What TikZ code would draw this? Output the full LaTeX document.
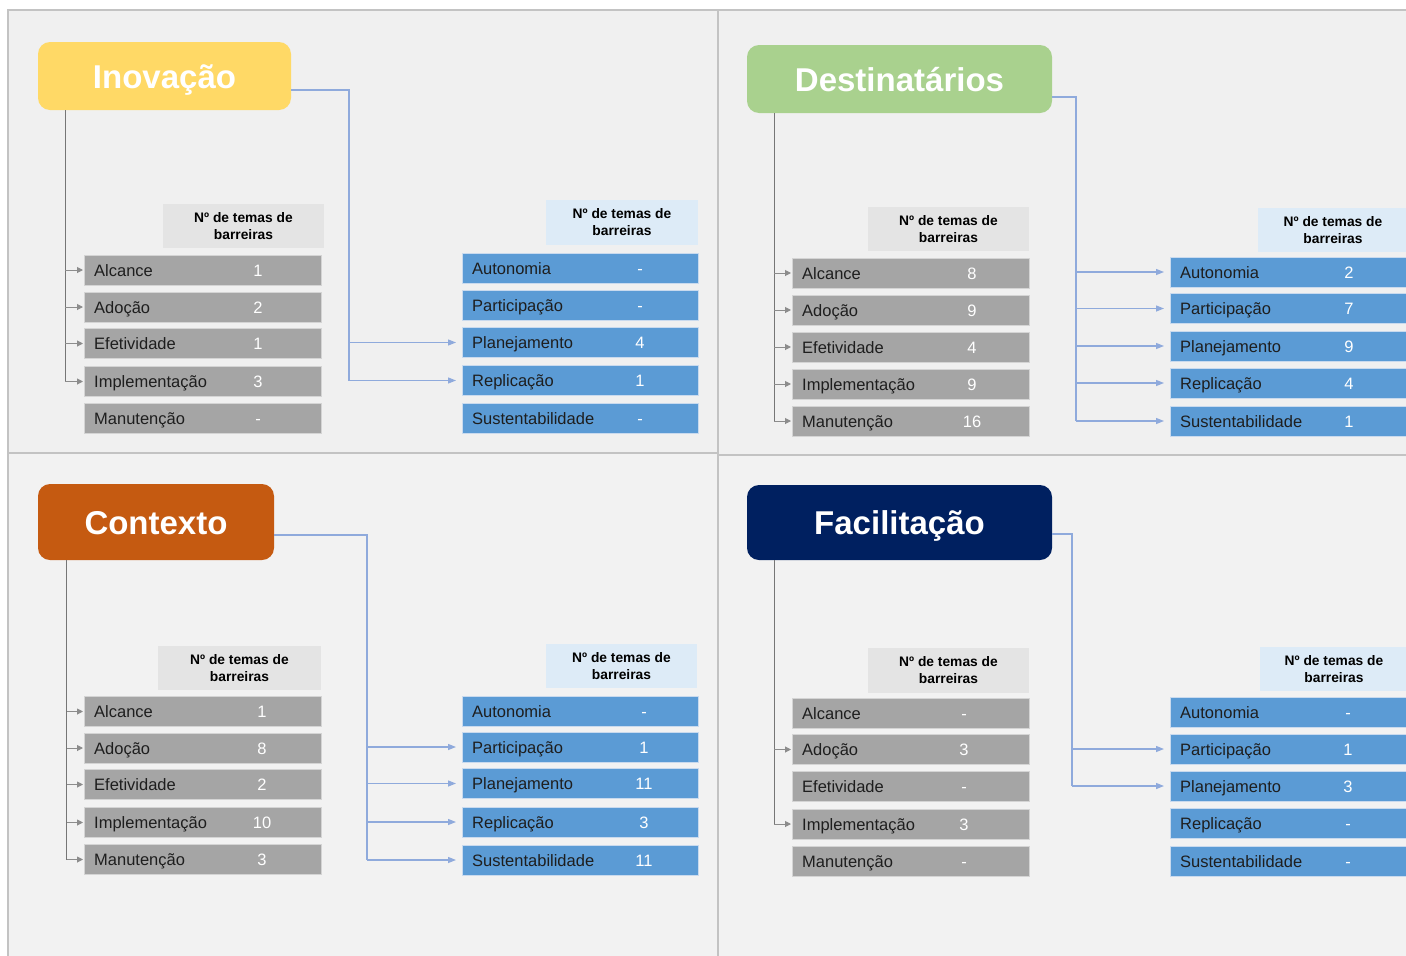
\documentclass[tikz,border=0pt]{standalone}
\usepackage{fontspec}
\setmainfont{Liberation Sans}
\usetikzlibrary{arrows.meta,calc}

\definecolor{panelA}{HTML}{F0F0F0}
\definecolor{panelB}{HTML}{F2F2F2}
\definecolor{panelline}{HTML}{C3C3C3}
\definecolor{boxgray}{HTML}{A5A5A5}
\definecolor{boxgrayedge}{HTML}{D4D4D4}
\definecolor{boxblue}{HTML}{5B9BD5}
\definecolor{boxblueedge}{HTML}{C9DAEE}
\definecolor{hdrgray}{HTML}{E4E4E4}
\definecolor{hdrblue}{HTML}{DDEBF7}
\definecolor{labeltext}{HTML}{1E1E1E}
\definecolor{gspine}{HTML}{767676}
\definecolor{garrowc}{HTML}{8C8C8C}
\definecolor{bluel}{HTML}{8FAADC}
\definecolor{inov}{HTML}{FFD966}
\definecolor{dest}{HTML}{A9D18E}
\definecolor{cont}{HTML}{C55A11}
\definecolor{faci}{HTML}{002060}

\tikzset{
  panelbox/.style={draw=panelline, line width=1.2pt},
  titlebox/.style={rounded corners=12pt, inner sep=0pt, text=white,
    text height=24pt, text depth=0pt,
    font=\bfseries\fontsize{33}{40}\selectfont},
  hdr/.style={inner sep=0pt, align=center, text=black,
    font=\bfseries\fontsize{13.8}{17}\selectfont},
  gbox/.style={fill=boxgray, draw=boxgrayedge, line width=1pt, anchor=west,
    minimum height=30pt, minimum width=237pt, inner sep=0pt},
  bbox/.style={fill=boxblue, draw=boxblueedge, line width=1pt, anchor=west,
    minimum height=30pt, minimum width=236pt, inner sep=0pt},
  lbl/.style={anchor=west, inner sep=0pt, text=labeltext, text height=12pt, text depth=0pt,
    font=\fontsize{16.5}{19}\selectfont},
  num/.style={inner sep=0pt, text=white, text height=12pt, text depth=0pt,
    font=\fontsize{16.5}{19}\selectfont},
  gline/.style={draw=gspine, line width=1pt},
  garrow/.style={draw=garrowc, line width=1pt, -{Triangle[length=6pt,width=6pt]}, shorten >=1pt},
  bline/.style={draw=bluel, line width=1.3pt},
  barrow/.style={draw=bluel, line width=1.3pt, -{Triangle[length=8pt,width=6pt]}, shorten >=6pt},
}

% one column of rows: name prefix, box style, left x, number x, list k/label/value/y
\newcommand{\colrows}[5]{%
  \foreach \k/\t/\v/\yc in {#5}{%
    \node[#2] (#1\k) at (#3,\yc) {};
    \node[lbl] (#1l\k) at ($(#1\k.west)+(10,0)$) {\t};
    \node[num] (#1n\k) at (#4,\yc) {\v};
  }}

\begin{document}
\begin{tikzpicture}[x=1pt,y=-1pt]
\useasboundingbox (0,0) rectangle (1406,956);
\clip (0,0) rectangle (1406,956);
\fill[white] (0,0) rectangle (1406,956);

% four panels
\filldraw[panelbox, fill=panelA] (8,10) rectangle (718,453);
\filldraw[panelbox, fill=panelA] (718,10) rectangle (1430,455);
\filldraw[panelbox, fill=panelB] (8,453) rectangle (718,990);
\filldraw[panelbox, fill=panelB] (718,455) rectangle (1430,990);

% ---------- Inovação ----------
\node[titlebox, fill=inov, minimum width=253pt, minimum height=68pt] (tlT) at (164.5,76) {Inovação};
\node[hdr, fill=hdrgray, minimum width=161pt, minimum height=44pt] (tlgh) at (243.5,226) {Nº de temas de\\barreiras};
\node[hdr, fill=hdrblue, minimum width=152pt, minimum height=45pt] (tlbh) at (622,222.5) {Nº de temas de\\barreiras};
\colrows{tlg}{gbox}{84}{258}{1/Alcance/1/270, 2/Adoção/2/307, 3/Efetividade/1/343.5, 4/Implementação/3/381.5, 5/Manutenção/-/418}
\colrows{tlb}{bbox}{462}{640}{1/Autonomia/-/268.5, 2/Participação/-/305.5, 3/Planejamento/4/342.5, 4/Replicação/1/380.5, 5/Sustentabilidade/-/418}

\coordinate (tlgs) at (65,0);
\draw[gline] (tlgs |- tlT.south) -- (tlgs |- tlg4);
\foreach \k in {1,2,3,4} \draw[garrow] (tlgs |- tlg\k) -- (tlg\k.west);
\coordinate (tlbs) at (349,0);
\coordinate (tlo) at ($(tlT.east)+(0,14)$);
\draw[bline] (tlo) -- (tlbs |- tlo) -- (tlbs |- tlb4);
\foreach \k in {3,4} \draw[barrow] (tlbs |- tlb\k) -- (tlb\k.west);

% ---------- Destinatários ----------
\node[titlebox, fill=dest, minimum width=305pt, minimum height=68pt] (trT) at (899.5,79) {Destinatários};
\node[hdr, fill=hdrgray, minimum width=161pt, minimum height=44pt] (trgh) at (948.5,229) {Nº de temas de\\barreiras};
\node[hdr, fill=hdrblue, minimum width=150pt, minimum height=44pt] (trbh) at (1333,230) {Nº de temas de\\barreiras};
\colrows{trg}{gbox}{792}{972}{1/Alcance/8/273, 2/Adoção/9/310, 3/Efetividade/4/347, 4/Implementação/9/384, 5/Manutenção/16/421}
\colrows{trb}{bbox, minimum width=260pt}{1170}{1349}{1/Autonomia/2/272, 2/Participação/7/308.5, 3/Planejamento/9/346, 4/Replicação/4/383, 5/Sustentabilidade/1/421}

\coordinate (trgs) at (774,0);
\draw[gline] (trgs |- trT.south) -- (trgs |- trg5);
\foreach \k in {1,...,5} \draw[garrow] (trgs |- trg\k) -- (trg\k.west);
\coordinate (trbs) at (1076,0);
\coordinate (tro) at ($(trT.east)+(0,18)$);
\draw[bline] (tro) -- (trbs |- tro) -- (trbs |- trb5);
\foreach \k in {1,...,5} \draw[barrow] (trbs |- trb\k) -- (trb\k.west);

% ---------- Contexto ----------
\node[titlebox, fill=cont, minimum width=236pt, minimum height=76pt] (blT) at (156,522) {Contexto};
\node[hdr, fill=hdrgray, minimum width=163pt, minimum height=44pt] (blgh) at (239.5,668) {Nº de temas de\\barreiras};
\node[hdr, fill=hdrblue, minimum width=151pt, minimum height=44pt] (blbh) at (621.5,666) {Nº de temas de\\barreiras};
\colrows{blg}{gbox}{84}{262}{1/Alcance/1/711.5, 2/Adoção/8/748, 3/Efetividade/2/784.5, 4/Implementação/10/822.5, 5/Manutenção/3/859.5}
\colrows{blb}{bbox}{462}{644}{1/Autonomia/-/711, 2/Participação/1/747, 3/Planejamento/11/783.5, 4/Replicação/3/822, 5/Sustentabilidade/11/860}

\coordinate (blgs) at (66.5,0);
\draw[gline] (blgs |- blT.south) -- (blgs |- blg5);
\foreach \k in {1,...,5} \draw[garrow] (blgs |- blg\k) -- (blg\k.west);
\coordinate (blbs) at (367,0);
\coordinate (blo) at ($(blT.east)+(0,13)$);
\draw[bline] (blo) -- (blbs |- blo) -- (blbs |- blb5);
\foreach \k in {2,...,5} \draw[barrow] (blbs |- blb\k) -- (blb\k.west);

% ---------- Facilitação ----------
\node[titlebox, fill=faci, minimum width=305pt, minimum height=75pt] (brT) at (899.5,522.5) {Facilitação};
\node[hdr, fill=hdrgray, minimum width=161pt, minimum height=45pt] (brgh) at (948.5,670.5) {Nº de temas de\\barreiras};
\node[hdr, fill=hdrblue, minimum width=148pt, minimum height=44pt] (brbh) at (1334,669) {Nº de temas de\\barreiras};
\colrows{brg}{gbox}{792}{964}{1/Alcance/-/713, 2/Adoção/3/749.5, 3/Efetividade/-/786.5, 4/Implementação/3/824, 5/Manutenção/-/861}
\colrows{brb}{bbox, minimum width=260pt}{1170}{1348}{1/Autonomia/-/712, 2/Participação/1/749, 3/Planejamento/3/786, 4/Replicação/-/823, 5/Sustentabilidade/-/861}

\coordinate (brgs) at (774,0);
\draw[gline] (brgs |- brT.south) -- (brgs |- brg4);
\foreach \k in {2,4} \draw[garrow] (brgs |- brg\k) -- (brg\k.west);
\coordinate (brbs) at (1072,0);
\coordinate (bro) at ($(brT.east)+(0,11.5)$);
\draw[bline] (bro) -- (brbs |- bro) -- (brbs |- brb3);
\foreach \k in {2,3} \draw[barrow] (brbs |- brb\k) -- (brb\k.west);
\end{tikzpicture}
\end{document}
